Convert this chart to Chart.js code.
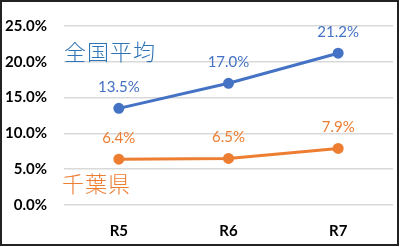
<!DOCTYPE html>
<html><head><meta charset="utf-8">
<script src="https://cdn.jsdelivr.net/npm/chart.js@4/dist/chart.umd.min.js"></script>
<style>
html,body{margin:0;padding:0;background:#fff;}
#wrap{position:relative;width:400px;height:247px;overflow:hidden;}
canvas{position:absolute;left:0;top:0;}
.ann{position:absolute;font-family:"Noto Sans CJK JP";font-size:22px;line-height:1;white-space:nowrap;font-weight:300;}
</style></head>
<body>
<div id="wrap">
<canvas id="c" width="400" height="247"></canvas>
<div class="ann" id="a1" style="left:64px;top:39px;color:#2E75B6;letter-spacing:1px;">全国平均</div>
<div class="ann" id="a2" style="left:62px;top:171px;color:#ED7D31;letter-spacing:1px;">千葉県</div>
</div>
<script>
const categories = ["R5", "R6", "R7"];
const nationalAvg = [13.5, 17.0, 21.2];
const chiba = [6.4, 6.5, 7.9];
const yTicks = [0, 5, 10, 15, 20, 25];

const font = "Lato";

const labelPlugin = {
  id: 'labels',
  afterDatasetsDraw(chart) {
    const ctx = chart.ctx;
    ctx.save();
    ctx.font = "15px " + font;
    ctx.textAlign = 'center';
    ctx.textBaseline = 'middle';
    chart.data.datasets.forEach((ds, i) => {
      const meta = chart.getDatasetMeta(i);
      ctx.fillStyle = ds.borderColor;
      meta.data.forEach((pt, j) => {
        ctx.fillText(ds.data[j].toFixed(1) + '%', pt.x, pt.y - 21);
      });
    });
    ctx.restore();
  },
  afterDraw(chart) {
    const ctx = chart.ctx;
    ctx.save();
    ctx.strokeStyle = '#222';
    ctx.lineWidth = 2;
    ctx.strokeRect(1, 1, 397, 244);
    ctx.restore();
  }
};

new Chart(document.getElementById('c'), {
  type: 'line',
  data: {
    labels: categories,
    datasets: [
      { data: nationalAvg, borderColor: '#4472C4', backgroundColor: '#4472C4', borderWidth: 3, pointRadius: 4, pointHoverRadius: 4 },
      { data: chiba, borderColor: '#ED7D31', backgroundColor: '#ED7D31', borderWidth: 3, pointRadius: 4, pointHoverRadius: 4 }
    ]
  },
  options: {
    responsive: false,
    animation: false,
    events: [],
    layout: { padding: { top: 24, right: 2, bottom: 0, left: 0 } },
    plugins: { legend: { display: false }, tooltip: { enabled: false } },
    scales: {
      x: {
        offset: true,
        grid: { display: false, drawTicks: false },
        border: { display: false },
        ticks: { color: '#000', font: { family: font, size: 15, weight: 'bold' }, padding: 17 },
        afterFit(s) { s.height = 42; }
      },
      y: {
        min: 0, max: 25,
        afterBuildTicks(s) { s.ticks = yTicks.map(v => ({ value: v })); },
        grid: { color: '#d9d9d9', lineWidth: 1.5, drawTicks: false },
        border: { display: false },
        ticks: { color: '#000', font: { family: font, size: 15, weight: 'bold' }, padding: 17,
          callback: v => v.toFixed(1) + '%' },
        afterFit(s) { s.width = 64; }
      }
    }
  },
  plugins: [labelPlugin]
});
</script>
</body></html>
